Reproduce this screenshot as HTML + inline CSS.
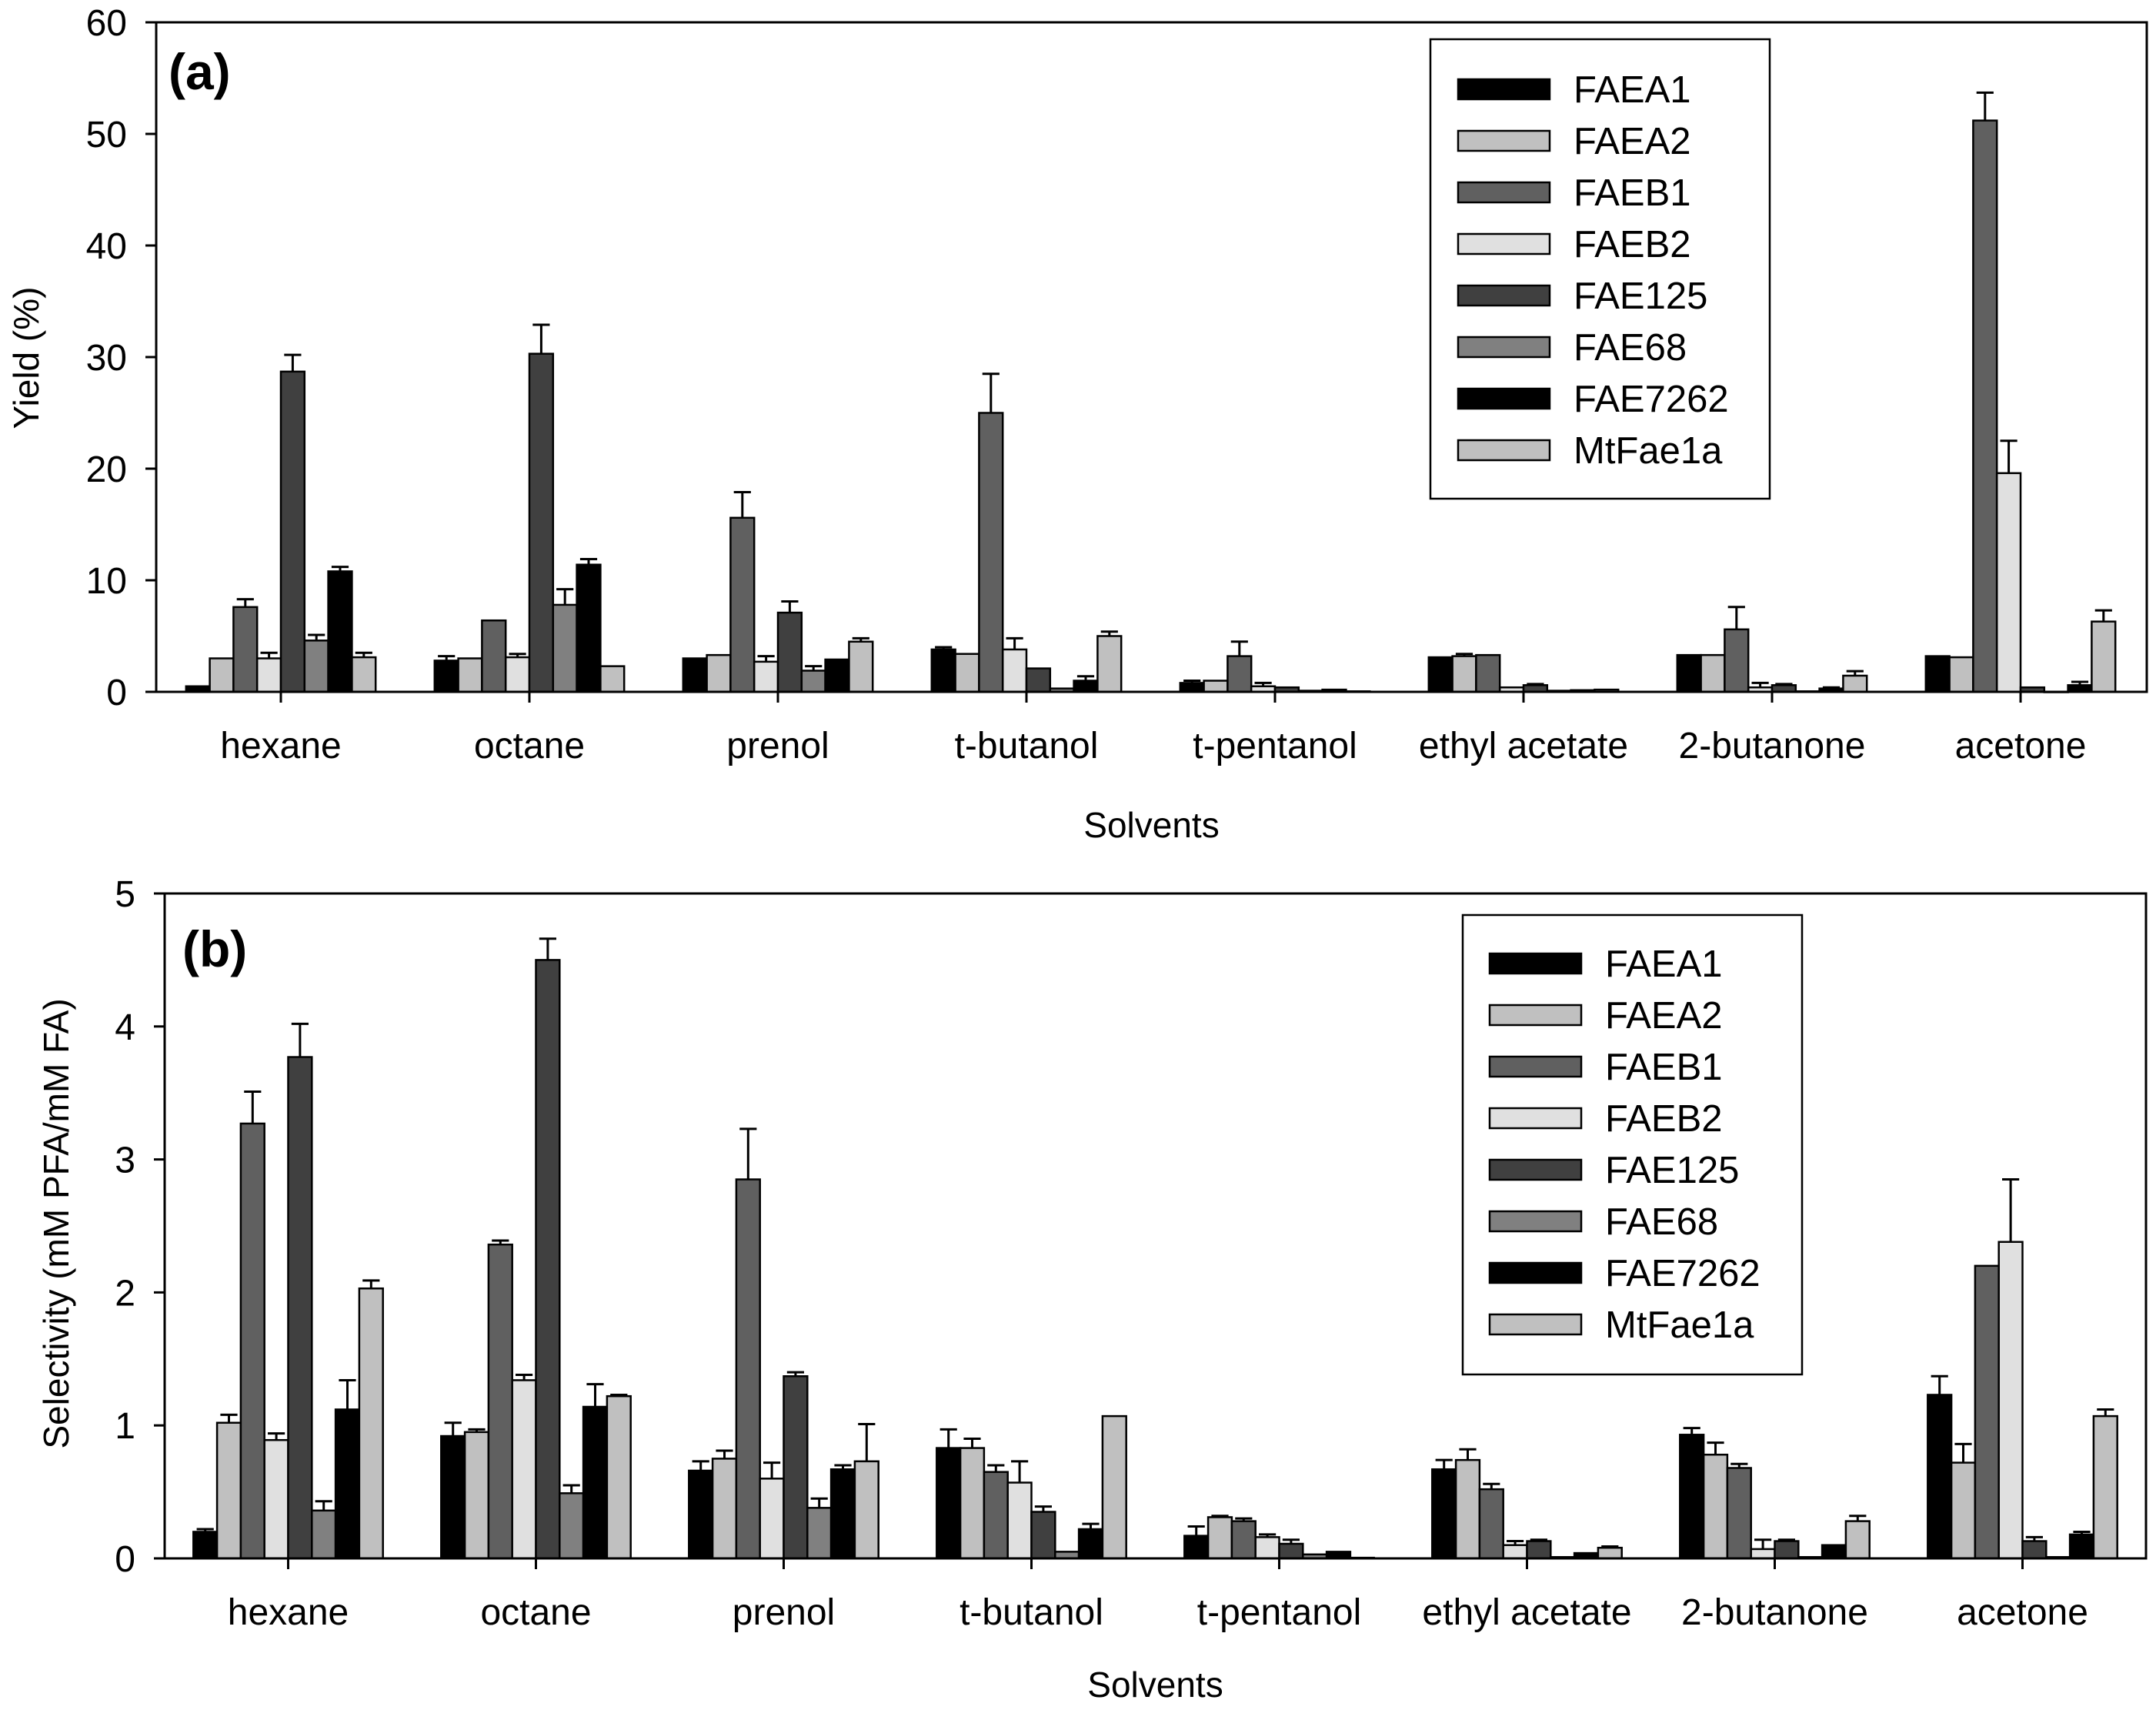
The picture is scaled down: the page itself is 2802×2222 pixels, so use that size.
<!DOCTYPE html>
<html><head><meta charset="utf-8"><style>
html,body{margin:0;padding:0;background:#fff}
svg{display:block;font-family:"Liberation Sans",sans-serif}
</style></head><body>
<svg id="chart" width="2802" height="2222" viewBox="0 0 2802 2222" xmlns="http://www.w3.org/2000/svg"></svg>
<script>
const categories = ["hexane","octane","prenol","t-butanol","t-pentanol","ethyl acetate","2-butanone","acetone"];
const seriesNames = ["FAEA1","FAEA2","FAEB1","FAEB2","FAE125","FAE68","FAE7262","MtFae1a"];
const seriesColors = ["#000000","#c0c0c0","#606060","#e0e0e0","#404040","#808080","#000000","#c0c0c0"];
// Yield (%) [category][series]
const yieldVals = [
 [0.5,3.0,7.6,3.0,28.7,4.6,10.8,3.1],
 [2.8,3.0,6.4,3.1,30.3,7.8,11.4,2.3],
 [3.0,3.3,15.6,2.7,7.1,1.9,2.9,4.5],
 [3.8,3.4,25.0,3.8,2.1,0.3,1.0,5.0],
 [0.8,1.0,3.2,0.5,0.4,0.1,0.2,0.05],
 [3.1,3.2,3.3,0.4,0.6,0.1,0.15,0.2],
 [3.3,3.3,5.6,0.4,0.6,0.05,0.3,1.45],
 [3.2,3.1,51.2,19.6,0.4,0.0,0.6,6.3]
];
const yieldErr = [
 [0,0,0.7,0.5,1.5,0.5,0.4,0.4],
 [0.4,0,0,0.3,2.6,1.4,0.5,0],
 [0,0,2.3,0.5,1.0,0.4,0,0.3],
 [0.2,0,3.5,1.0,0,0,0.4,0.4],
 [0.2,0,1.3,0.3,0,0,0,0],
 [0,0.2,0,0,0.1,0,0,0],
 [0,0,2.0,0.4,0.1,0,0.1,0.4],
 [0,0,2.5,2.9,0,0,0.3,1.0]
];
// Selectivity [category][series]
const selVals = [
 [0.2,1.02,3.27,0.89,3.77,0.36,1.12,2.03],
 [0.92,0.95,2.36,1.34,4.5,0.49,1.14,1.22],
 [0.66,0.75,2.85,0.6,1.37,0.38,0.67,0.73],
 [0.83,0.83,0.65,0.57,0.35,0.05,0.22,1.07],
 [0.17,0.31,0.28,0.16,0.11,0.03,0.05,0.005],
 [0.67,0.74,0.52,0.1,0.13,0.01,0.04,0.08],
 [0.93,0.78,0.68,0.07,0.13,0.01,0.1,0.28],
 [1.23,0.72,2.2,2.38,0.13,0.01,0.18,1.07]
];
const selErr = [
 [0.02,0.06,0.24,0.05,0.25,0.07,0.22,0.06],
 [0.1,0.02,0.03,0.04,0.16,0.06,0.17,0.01],
 [0.07,0.06,0.38,0.12,0.03,0.07,0.03,0.28],
 [0.14,0.07,0.05,0.16,0.04,0,0.04,0],
 [0.07,0.01,0.02,0.02,0.03,0,0,0],
 [0.07,0.08,0.04,0.03,0.01,0,0,0.01],
 [0.05,0.09,0.03,0.07,0.01,0,0,0.04],
 [0.14,0.14,0,0.47,0.03,0,0.02,0.05]
];
const yieldTicks = [0,10,20,30,40,50,60];
const selTicks = [0,1,2,3,4,5];

const NS="http://www.w3.org/2000/svg";
const svg=document.getElementById('chart');
function mk(tag,attrs,parent,text){const e=document.createElementNS(NS,tag);for(const k in attrs)e.setAttribute(k,attrs[k]);if(text!==undefined)e.textContent=text;(parent||svg).appendChild(e);return e;}

function panel(p){
  const g=mk('g',{});
  
  
  const yS=v=>p.bottom-(v/p.max)*(p.bottom-p.top);
  const xC=i=>p.first+i*p.step;
  const bw=30.8;
  categories.forEach((c,ci)=>{
    seriesNames.forEach((s,si)=>{
      const v=p.vals[ci][si],e=p.errs[ci][si];
      const x=xC(ci)-4*bw+si*bw;
      const y=yS(v);
      const r=mk('rect',{x:x,y:y,width:bw,height:Math.max(p.bottom-y,0.5),fill:seriesColors[si],stroke:'#000','stroke-width':2.5},g);
      
      
      if(e>0){
        const ye=yS(v+e),cx=x+bw/2;
        const eb=mk('path',{d:`M${cx},${y} V${ye} M${cx-bw*0.36},${ye} H${cx+bw*0.36}`,stroke:'#000','stroke-width':3,fill:'none'},g);
        
        
      }
    });
    const t=mk('text',{x:xC(ci),y:p.catY,'text-anchor':'middle','font-size':48},g,c);
    
    
    mk('line',{x1:xC(ci),x2:xC(ci),y1:p.bottom,y2:p.bottom+14,stroke:'#000','stroke-width':3},g);
  });
  const fr=mk('rect',{x:p.left,y:p.top,width:p.right-p.left,height:p.bottom-p.top,fill:'none',stroke:'#000','stroke-width':3},g);
  
  
  p.ticks.forEach(t=>{
    const y=yS(t);
    mk('line',{x1:p.left-14,x2:p.left,y1:y,y2:y,stroke:'#000','stroke-width':3},g);
    const tl=mk('text',{x:p.left-38,y:y+17,'text-anchor':'end','font-size':48},g,String(t));
    
    
  });
  const xt=mk('text',{x:(p.left+p.right)/2,y:p.xtY,'text-anchor':'middle','font-size':46},g,'Solvents');
  
  
  const yt=mk('text',{x:0,y:0,'text-anchor':'middle','font-size':46,transform:`translate(${p.ytX},${p.ytY}) rotate(-90)`},g,p.ytitle);
  
  
  const pl=mk('text',{x:p.letterX,y:p.letterY,'font-size':66,'font-weight':'bold'},g,p.letter);
  
  
  const lg=mk('g',{},g);
  
  
  mk('rect',{x:p.lg[0],y:p.lg[1],width:p.lg[2]-p.lg[0],height:p.lg[3]-p.lg[1],fill:'#fff',stroke:'#000','stroke-width':2.5},lg);
  seriesNames.forEach((s,si)=>{
    const cy=p.lgRow0+si*67;
    const le=mk('g',{},lg);
    
    
    mk('rect',{x:p.lgSw,y:cy-13,width:119,height:26,fill:seriesColors[si],stroke:'#000','stroke-width':2.5},le);
    mk('text',{x:p.lgSw+150,y:cy+17,'font-size':49},le,s);
  });
}
panel({id:'yield',vals:yieldVals,errs:yieldErr,max:60,ticks:yieldTicks,left:203,right:2790,top:29,bottom:899,first:365,step:323,
  catY:985,xtY:1088,ytX:50,ytY:465,ytitle:'Yield (%)',letter:'(a)',letterX:219,letterY:116,
  lg:[1859,51,2300,648],lgSw:1895,lgRow0:116});
panel({id:'selectivity',vals:selVals,errs:selErr,max:5,ticks:selTicks,left:214,right:2789,top:1161,bottom:2025,first:374.5,step:322,
  catY:2111,xtY:2205,ytX:89,ytY:1590,ytitle:'Selectivity (mM PFA/mM FA)',letter:'(b)',letterX:237,letterY:1256,
  lg:[1901,1189,2342,1786],lgSw:1936,lgRow0:1252});
</script>
</body></html>
